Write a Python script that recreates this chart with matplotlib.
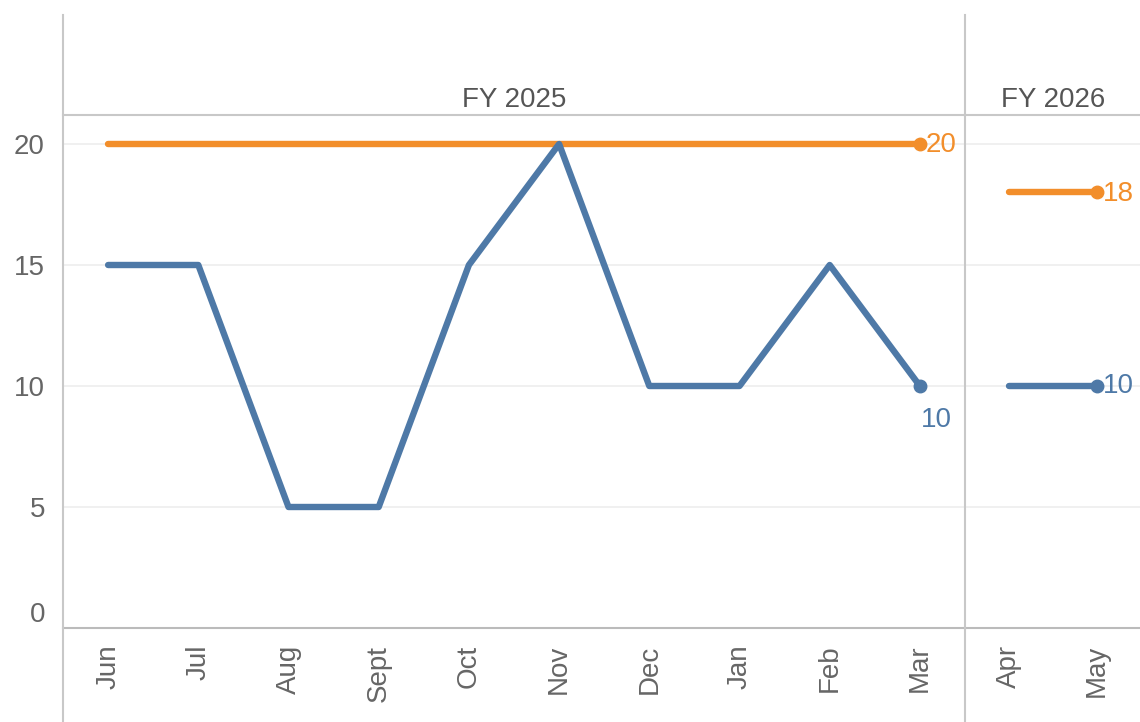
import matplotlib.pyplot as plt
from matplotlib.lines import Line2D

plt.rcParams['font.family'] = ['Liberation Sans', 'DejaVu Sans']

fy25_months = ["Jun", "Jul", "Aug", "Sept", "Oct", "Nov", "Dec", "Jan", "Feb", "Mar"]
fy26_months = ["Apr", "May"]
fy25_actual = [15, 15, 5, 5, 15, 20, 10, 10, 15, 10]
fy26_actual = [10, 10]
fy25_target = [20] * 10
fy26_target = [18, 18]
yticks = [0, 5, 10, 15, 20]

BLUE = "#4e79a7"
ORANGE = "#f28e2b"
GRID = "#c8c8c8"
TXT = "#666666"

W, H = 1140, 722
fig = plt.figure(figsize=(W / 100, H / 100), dpi=100)

left, div, right = 63, 965, 1141
top, bottom = 115, 628
ax1 = fig.add_axes([left / W, 1 - bottom / H, (div - left) / W, (bottom - top) / H])
ax2 = fig.add_axes([div / W, 1 - bottom / H, (right - div) / W, (bottom - top) / H])

ymax = (bottom - top) / ((bottom - 144) / 20)


def draw_panel(ax, months, actual, target, header, label_below):
    x = list(range(len(months)))
    ax.set_xlim(-0.5, len(months) - 0.5)
    ax.set_ylim(0, ymax)
    for v in yticks[1:]:
        ax.axhline(v, color="#eeeeee", lw=1.2, zorder=0)
    ax.plot(x, target, color=ORANGE, lw=4.6, solid_capstyle="round", zorder=2)
    ax.plot(x, actual, color=BLUE, lw=4.6, solid_capstyle="round",
            solid_joinstyle="round", zorder=3)
    ax.plot(x[-1], target[-1], "o", color=ORANGE, ms=9, zorder=4)
    ax.plot(x[-1], actual[-1], "o", color=BLUE, ms=9, zorder=4)
    ax.annotate(f"{target[-1]}", (x[-1], target[-1]), xytext=(4, -1),
                textcoords="offset points", ha="left", va="center",
                color=ORANGE, fontsize=20, annotation_clip=False)
    if label_below:
        ax.annotate(f"{actual[-1]}", (x[-1], actual[-1]), xytext=(1, -15),
                    textcoords="offset points", ha="left", va="top",
                    color=BLUE, fontsize=20, annotation_clip=False)
    else:
        ax.annotate(f"{actual[-1]}", (x[-1], actual[-1]), xytext=(4, 0),
                    textcoords="offset points", ha="left", va="center",
                    color=BLUE, fontsize=20, annotation_clip=False)

    ax.set_xticks(x)
    ax.set_xticklabels(months, rotation=90, fontsize=20, color=TXT)
    ax.tick_params(axis="x", length=0, pad=12)
    for s in ["left", "right"]:
        ax.spines[s].set_visible(False)
    ax.spines["top"].set_color(GRID)
    ax.spines["top"].set_linewidth(1.5)
    ax.spines["bottom"].set_color("#bbbbbb")
    ax.spines["bottom"].set_linewidth(1.5)
    ax.spines["bottom"].set_linestyle((0, (3, 1)))
    ax.text(0.5, (115 - 100) / (bottom - top) + 1, header, transform=ax.transAxes,
            ha="center", va="center", fontsize=20, color="#555555")


draw_panel(ax1, fy25_months, fy25_actual, fy25_target, "FY 2025", True)
draw_panel(ax2, fy26_months, fy26_actual, fy26_target, "FY 2026", False)

ax1.set_yticks(yticks)
ax1.set_yticklabels([str(v) for v in yticks], fontsize=20, color=TXT)
ax1.tick_params(axis="y", length=0, pad=13)
# the zero label sits just above the baseline
ax1.get_yticklabels()[0].set_verticalalignment("bottom")
ax2.set_yticks([])

# pane dividers run the full height
for px in (left, div):
    fig.add_artist(Line2D([px / W, px / W], [0, 1 - 15 / H], color=GRID, lw=1.5))

fig.savefig("out.png", dpi=100)
